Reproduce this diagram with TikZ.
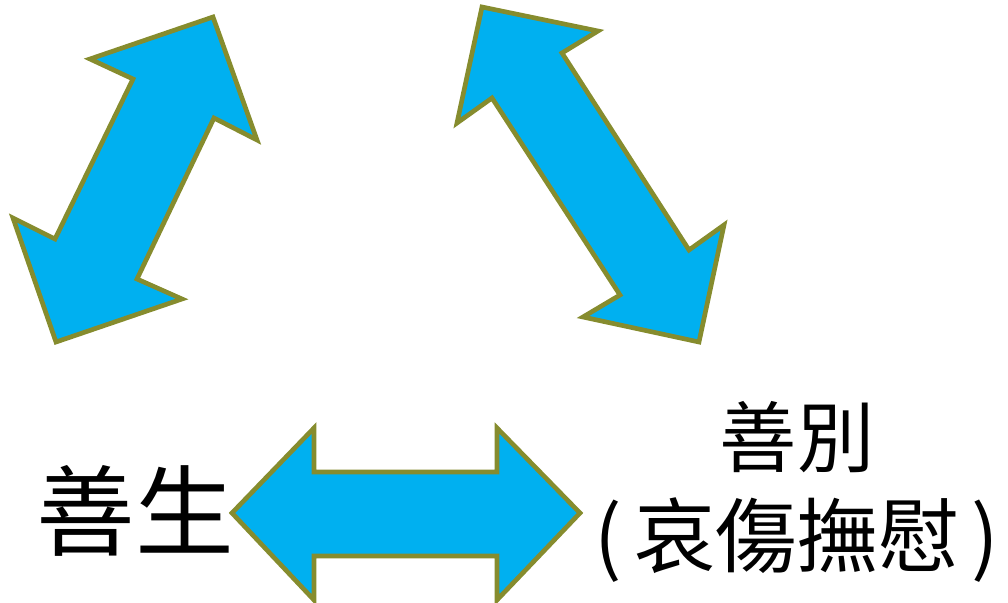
\documentclass[tikz,border=0pt]{standalone}
\usepackage{fontspec}
\newfontfamily\cjk{Noto Sans CJK TC}
\definecolor{arrowfill}{RGB}{0,176,240}
\definecolor{arrowline}{RGB}{134,140,46}
\tikzset{
  blockarrow/.style={fill=arrowfill, draw=arrowline, line width=3.5pt, line join=miter},
  biglabel/.style={font=\cjk\fontsize{74}{84}\selectfont, inner sep=0pt},
  toplabel/.style={font=\cjk\fontsize{58}{66}\selectfont, inner sep=0pt},
  bottomlabel/.style={font=\cjk\fontsize{61}{70}\selectfont, inner sep=0pt}
}
\begin{document}
\begin{tikzpicture}[x=0.75pt,y=-0.75pt]
\useasboundingbox (0,0) rectangle (1008,603);
% left diagonal arrow
\draw[blockarrow] (213,17) -- (257,140) -- (214,118) -- (137,279) -- (182,299) -- (56,342)
  -- (13,218) -- (55,239) -- (133,79) -- (90,59) -- cycle;
% right diagonal arrow
\draw[blockarrow] (482,7) -- (598,31) -- (562,53) -- (689,250) -- (724,225) -- (699,342)
  -- (583,317) -- (620,295) -- (492,98) -- (457,123) -- cycle;
% horizontal arrow
\draw[blockarrow] (232,513) -- (314,428) -- (314,472) -- (497,472) -- (497,428) -- (580,513)
  -- (497,600) -- (497,556) -- (314,556) -- (314,600) -- cycle;
% labels
\node[biglabel] (shansheng) at (135,511) {善生};
\node[toplabel] (shanbie) at (797,437) {善別};
\node[bottomlabel] (aishang) at (797,540) {(\kern0.15em哀傷撫慰\kern0.15em)};
\end{tikzpicture}
\end{document}
